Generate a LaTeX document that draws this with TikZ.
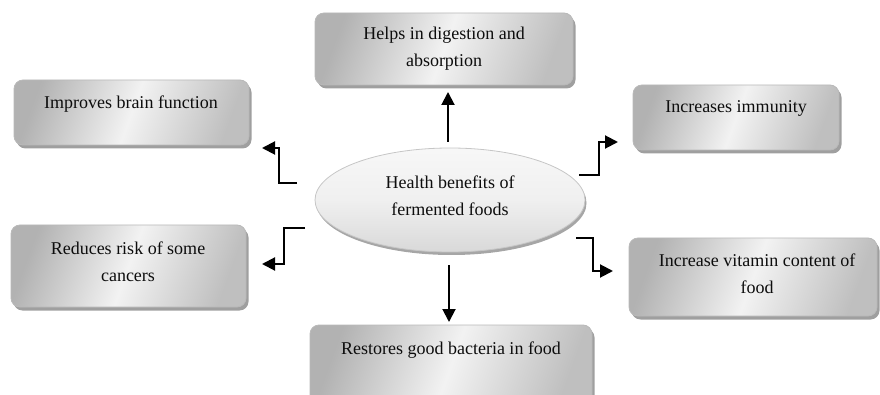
\documentclass[tikz,border=0pt]{standalone}
\usepackage{fontspec}
\setmainfont{Liberation Serif}
\usetikzlibrary{arrows.meta,shadows,shapes.geometric}
\definecolor{txt}{HTML}{0D0D0D}
\tikzset{
  boxshape/.style={draw=gray!55, line width=0.8pt, rounded corners=9pt, inner sep=0pt,
    left color=gray!60, right color=gray!50, middle color=gray!10, shading angle=70,
    drop shadow={shadow xshift=2.5pt, shadow yshift=-3.5pt, fill=gray!75, opacity=1}},
  ovalshape/.style={ellipse, draw=gray!45, line width=0.8pt, inner sep=0pt,
    top color=gray!6, bottom color=gray!30, middle color=gray!12,
    drop shadow={shadow xshift=1.5pt, shadow yshift=-3pt, fill=gray!70, opacity=1}},
  lbl/.style={text=txt, font=\fontsize{18}{27}\selectfont, align=center, inner sep=0pt},
  arr/.style={line width=2pt, -{Triangle[length=13pt,width=13pt]}}
}
\begin{document}
\begin{tikzpicture}[x=1pt,y=-1pt]
\useasboundingbox (0,0) rectangle (880,395);
% boxes
\node[boxshape, minimum width=258pt, minimum height=72pt] (dig) at (444,49) {};
\node[boxshape, minimum width=235pt, minimum height=65pt] (brain) at (131.5,112.5) {};
\node[boxshape, minimum width=206pt, minimum height=65pt] (imm) at (736,117.5) {};
\node[boxshape, minimum width=235pt, minimum height=82pt] (can) at (128.5,266) {};
\node[boxshape, minimum width=248pt, minimum height=78pt] (vit) at (753,277) {};
\node[boxshape, minimum width=282pt, minimum height=80pt] (res) at (451,365) {};
\node[ovalshape, minimum width=270pt, minimum height=104pt] (hb) at (450,200) {};
% labels
\node[lbl] (tdig) at (444,48.5) {Helps in digestion and\\absorption};
\node[lbl] (tbrain) at (131,104) {Improves brain function};
\node[lbl] (timm) at (736,108) {Increases immunity};
\node[lbl] (tcan) at (128,262) {Reduces risk of some\\cancers};
\node[lbl] (tvit) at (757,274) {Increase vitamin content of\\food};
\node[lbl] (tres) at (451,350) {Restores good bacteria in food};
\node[lbl] (thb) at (450,196) {Health benefits of\\fermented foods};
% connector ends
\coordinate (a1s) at (448,142); \coordinate (a1e) at (448,92);
\coordinate (a2s) at (449,265); \coordinate (a2e) at (449,322);
\coordinate (a3s) at (297,183); \coordinate (a3e) at (262,148);
\coordinate (a4s) at (579,175); \coordinate (a4e) at (618,142);
\coordinate (a5s) at (305,228); \coordinate (a5e) at (262,264);
\coordinate (a6s) at (576,238); \coordinate (a6e) at (613,271);
\draw[arr] (a1s) -- (a1e);
\draw[arr] (a2s) -- (a2e);
\draw[arr] (a3s) -- ++(-18,0) |- (a3e);
\draw[arr] (a4s) -- ++(20,0) |- (a4e);
\draw[arr] (a5s) -- ++(-21,0) |- (a5e);
\draw[arr] (a6s) -- ++(17,0) |- (a6e);
\end{tikzpicture}
\end{document}
